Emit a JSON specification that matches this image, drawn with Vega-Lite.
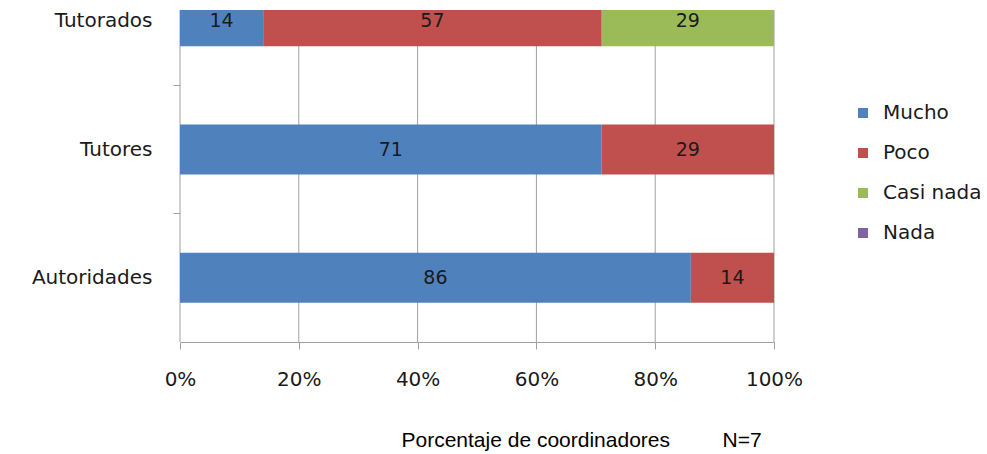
{
  "$schema": "https://vega.github.io/schema/vega-lite/v6.json",
  "autosize": "none",
  "width": 594,
  "height": 332,
  "padding": {"left": 180, "top": 10, "right": 213, "bottom": 112},
  "background": "white",
  "config": {"view": {"stroke": null}, "font": "DejaVu Sans"},
  "datasets": {
    "barras": [
      {"grupo": "Tutorados", "nivel": "Mucho", "k": 1, "v": 14},
      {"grupo": "Tutorados", "nivel": "Poco", "k": 2, "v": 57},
      {"grupo": "Tutorados", "nivel": "Casi nada", "k": 3, "v": 29},
      {"grupo": "Tutores", "nivel": "Mucho", "k": 1, "v": 71},
      {"grupo": "Tutores", "nivel": "Poco", "k": 2, "v": 29},
      {"grupo": "Autoridades", "nivel": "Mucho", "k": 1, "v": 86},
      {"grupo": "Autoridades", "nivel": "Poco", "k": 2, "v": 14}
    ],
    "rejilla": [{"p": 0}, {"p": 0.2}, {"p": 0.4}, {"p": 0.6}, {"p": 0.8}, {"p": 1}]
  },
  "layer": [
    {"data": {"name": "rejilla"},
     "mark": {"type": "rule", "color": "#A0A0A0", "strokeWidth": 1},
     "encoding": {"x": {"field": "p", "type": "quantitative", "scale": {"domain": [0, 1]},
         "axis": {"format": "%", "values": [0, 0.2, 0.4, 0.6, 0.8, 1], "grid": false,
           "domainColor": "#A0A0A0", "tickColor": "#A0A0A0", "tickSize": 7, "labelOverlap": false, "labelFlush": false, "labelBound": false,
           "labelFontSize": 20, "labelColor": "#1a1a1a", "labelPadding": 20,
           "title": "Porcentaje de coordinadores\u00a0\u00a0\u00a0\u00a0\u00a0\u00a0\u00a0\u00a0\u00a0N=7", "titleFont": "Liberation Sans", "titleFontSize": 21,
           "titleFontWeight": "normal", "titleColor": "#000000", "titleX": 221, "titleY": 104, "titleAlign": "left", "titleBaseline": "alphabetic"}}}},
    {"data": {"name": "barras"},
     "transform": [
       {"stack": "v", "groupby": ["grupo"], "sort": [{"field": "k", "order": "ascending"}], "offset": "normalize", "as": ["x0", "x1"]},
       {"calculate": "(datum.x0 + datum.x1) / 2", "as": "xm"}
     ],
     "encoding": {
       "y": {"field": "grupo", "type": "nominal", "sort": ["Tutorados", "Tutores", "Autoridades"],
         "scale": {"range": [-53, 332], "paddingInner": 0.61, "paddingOuter": 0.305},
         "axis": {"title": null, "domain": false, "bandPosition": -0.78, "tickExtra": true, "tickSize": 7, "tickColor": "#A0A0A0",
           "labelFontSize": 20, "labelColor": "#1a1a1a", "labelPadding": 21}}
     },
     "layer": [
       {"mark": {"type": "bar", "clip": true},
        "encoding": {
          "x": {"field": "x0", "type": "quantitative"},
          "x2": {"field": "x1"},
          "color": {"field": "nivel", "type": "nominal",
            "scale": {"domain": ["Mucho", "Poco", "Casi nada", "Nada"], "range": ["#4F81BD", "#C0504D", "#9BBB59", "#8064A2"]},
            "legend": {"title": null, "orient": "none", "legendX": 673, "legendY": 93, "symbolType": "square", "symbolSize": 100,
              "symbolStrokeWidth": 0, "labelFontSize": 20, "labelColor": "#1a1a1a", "labelOffset": 10, "rowPadding": 20}}}},
       {"mark": {"type": "text", "fontSize": 19, "color": "#1a1a1a", "clip": true},
        "encoding": {"x": {"field": "xm", "type": "quantitative"},
          "text": {"field": "v", "type": "quantitative"}}}
     ]}
  ]
}
